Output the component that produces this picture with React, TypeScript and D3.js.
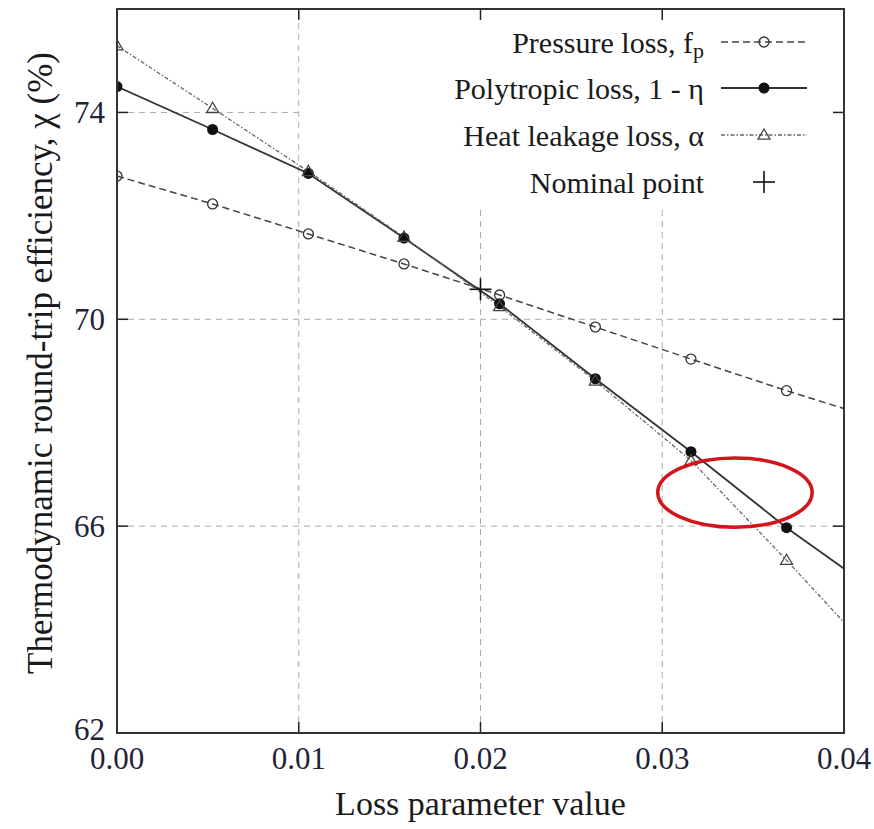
import React from "react";
import * as d3 from "d3";

// loss parameter values where the curves were sampled
const lossValues = [0, 0.00526, 0.01053, 0.01579, 0.02105, 0.02632, 0.03158, 0.03684, 0.04211];
// round-trip efficiency (%) for each loss type
const pressureLoss = [72.77, 72.23, 71.65, 71.07, 70.47, 69.85, 69.23, 68.62, 68.04];
const polytropicLoss = [74.5, 73.67, 72.82, 71.57, 70.3, 68.85, 67.44, 65.97, 64.65];
const heatLeakageLoss = [75.29, 74.08, 72.86, 71.59, 70.25, 68.81, 67.27, 65.34, 63.34];
const nominalPoint = { x: 0.02, y: 70.58 };

const xTicks = [0, 0.01, 0.02, 0.03, 0.04];
const yTicks = [62, 66, 70, 74];
const xGrid = [0.01, 0.02, 0.03];
const yGrid = [66, 70, 74];

// red highlight ellipse (data units)
const highlight = { x: 0.034, y: 66.65, rx: 0.00425, ry: 0.67 };

const W = 874;
const H = 829;
const margin = { top: 9, right: 30, bottom: 96, left: 117 };
const font = "'Liberation Serif', 'DejaVu Serif', serif";

const App = () => {
  const x = d3.scaleLinear().domain([0, 0.04]).range([margin.left, W - margin.right]);
  const y = d3.scaleLinear().domain([62, 76]).range([H - margin.bottom, margin.top]);
  const [x0, x1] = x.range();
  const [y0, y1] = y.range();

  const line = d3
    .line<number>()
    .x((_, i) => x(lossValues[i]))
    .y((d) => y(d));

  const series = [
    { key: "p", values: pressureLoss, stroke: "#444", width: 1.5, dash: "7 4", marker: "circle" },
    { key: "e", values: polytropicLoss, stroke: "#333", width: 1.8, dash: null, marker: "dot" },
    { key: "a", values: heatLeakageLoss, stroke: "#666", width: 1.3, dash: "4 2 1.5 2", marker: "tri" },
  ];

  const marker = (type: string, cx: number, cy: number, k: string) => {
    if (type === "circle")
      return <circle key={k} cx={cx} cy={cy} r={5} fill="none" stroke="#333" strokeWidth={1.3} />;
    if (type === "dot") return <circle key={k} cx={cx} cy={cy} r={5.5} fill="#111" />;
    const s = 6;
    const pts = [
      [cx, cy - s],
      [cx - s, cy + s * 0.7],
      [cx + s, cy + s * 0.7],
    ]
      .map((p) => p.join(","))
      .join(" ");
    return <polygon key={k} points={pts} fill="none" stroke="#444" strokeWidth={1.3} />;
  };

  const cross = (cx: number, cy: number, k: string) => (
    <g key={k} stroke="#111" strokeWidth={1.6}>
      <line x1={cx - 11} x2={cx + 11} y1={cy} y2={cy} />
      <line x1={cx} x2={cx} y1={cy - 11} y2={cy + 11} />
    </g>
  );

  const legendRows = [
    { label: ["Pressure loss, f", "p"], s: series[0], y: 42 },
    { label: ["Polytropic loss, 1 - \u03b7"], s: series[1], y: 88 },
    { label: ["Heat leakage loss, \u03b1"], s: series[2], y: 135 },
    { label: ["Nominal point"], s: null, y: 182 },
  ];
  const legTextX = 704;
  const legL = 721;
  const legR = 807;
  const legM = 764;

  return (
    <svg
      width={W}
      height={H}
      style={{ position: "absolute", left: 0, top: 0, background: "#fff", fontFamily: font }}
    >
      <defs>
        <clipPath id="plot">
          <rect x={x0} y={y1} width={x1 - x0} height={y0 - y1} />
        </clipPath>
      </defs>
      <rect width={W} height={H} fill="#fff" />

      {/* grid */}
      <g stroke="#aaa" strokeWidth={1} strokeDasharray="6 5">
        {xGrid.map((t) => (
          <line key={"gx" + t} x1={x(t)} x2={x(t)} y1={y0} y2={y1} />
        ))}
        {yGrid.map((t) => (
          <line key={"gy" + t} x1={x0} x2={x1} y1={y(t)} y2={y(t)} />
        ))}
      </g>
      {/* opaque key background */}
      <rect x={x(0.01) + 1} y={y1} width={x1 - x(0.01) - 1} height={207 - y1} fill="#fff" />

      {/* ticks */}
      <g stroke="#222" strokeWidth={1.5}>
        {xTicks.map((t) => (
          <g key={"tx" + t}>
            <line x1={x(t)} x2={x(t)} y1={y0} y2={y0 - 11} />
            <line x1={x(t)} x2={x(t)} y1={y1} y2={y1 + 11} />
          </g>
        ))}
        {yTicks.map((t) => (
          <g key={"ty" + t}>
            <line x1={x0} x2={x0 + 11} y1={y(t)} y2={y(t)} />
            <line x1={x1} x2={x1 - 11} y1={y(t)} y2={y(t)} />
          </g>
        ))}
      </g>

      {/* data */}
      <g clipPath="url(#plot)">
        {series.map((s) => (
          <path
            key={s.key}
            d={line(s.values) ?? ""}
            fill="none"
            stroke={s.stroke}
            strokeWidth={s.width}
            strokeDasharray={s.dash ?? undefined}
          />
        ))}
        {series.map((s) =>
          s.values.map((v, i) =>
            lossValues[i] <= 0.04 ? marker(s.marker, x(lossValues[i]), y(v), s.key + i) : null
          )
        )}
        {cross(x(nominalPoint.x), y(nominalPoint.y), "nominal")}
      </g>

      {/* frame */}
      <rect x={x0} y={y1} width={x1 - x0} height={y0 - y1} fill="none" stroke="#333" strokeWidth={2} />

      {/* tick labels */}
      <g fill="#1e2438" fontSize={31}>
        {yTicks.map((t) => (
          <text
            key={"ly" + t}
            x={x0 - 12}
            y={y(t) - (t === 62 ? 4 : 0)}
            textAnchor="end"
            dominantBaseline="central"
          >
            {t}
          </text>
        ))}
        {xTicks.map((t) => (
          <text key={"lx" + t} x={x(t)} y={y0 + 25} textAnchor="middle" dominantBaseline="central">
            {t.toFixed(2)}
          </text>
        ))}
      </g>

      {/* axis titles */}
      <text x={(x0 + x1) / 2} y={815} textAnchor="middle" fontSize={34} fill="#1a1a1a">
        Loss parameter value
      </text>
      <text
        transform={`translate(52, ${(y0 + y1) / 2 - 8}) rotate(-90)`}
        textAnchor="middle"
        fontSize={35}
        fill="#1a1a1a"
      >
        Thermodynamic round-trip efficiency, {"\u03c7"} (%)
      </text>

      {/* legend */}
      <g fontSize={30} fill="#1a1a1a">
        {legendRows.map((r) => (
          <g key={r.y}>
            <text x={legTextX} y={r.y} textAnchor="end" dominantBaseline="central">
              {r.label[0]}
              {r.label[1] ? (
                <tspan fontSize={22} dy={8}>
                  {r.label[1]}
                </tspan>
              ) : null}
            </text>
            {r.s ? (
              <>
                <line
                  x1={legL}
                  x2={legR}
                  y1={r.y}
                  y2={r.y}
                  stroke={r.s.stroke}
                  strokeWidth={r.s.width}
                  strokeDasharray={r.s.dash ?? undefined}
                />
                {marker(r.s.marker, legM, r.y, "lm" + r.y)}
              </>
            ) : (
              cross(legM, r.y, "lc")
            )}
          </g>
        ))}
      </g>

      {/* highlight */}
      <ellipse
        cx={x(highlight.x)}
        cy={y(highlight.y)}
        rx={x(highlight.rx) - x(0)}
        ry={y(0) - y(highlight.ry)}
        fill="none"
        stroke="#d3141c"
        strokeWidth={3.5}
      />
    </svg>
  );
};

export default App;
